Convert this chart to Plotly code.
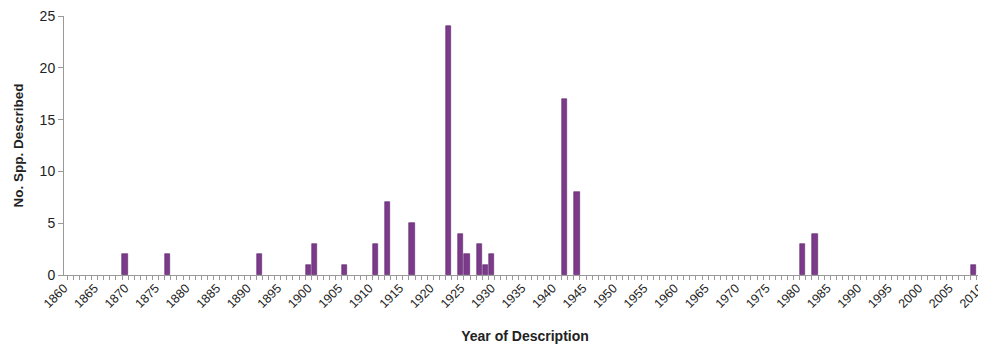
import plotly.graph_objects as go

years = [1870, 1877, 1892, 1900, 1901, 1906, 1911, 1913, 1917, 1923, 1925, 1926,
         1928, 1929, 1930, 1942, 1944, 1981, 1983, 2009]
counts = [2, 2, 2, 1, 3, 1, 3, 7, 5, 24, 4, 2, 3, 1, 2, 17, 8, 3, 4, 1]
tick_years = list(range(1860, 2011, 5))
tick_labels = [str(y) for y in tick_years]

fig = go.Figure(go.Bar(
    x=years, y=counts, width=0.85,
    marker=dict(color="#7B3A8A", line=dict(color="#5E2A6A", width=0.6)),
))

# page body has an 8px margin, so the figure is sized to end at the window edge
fig.update_layout(
    width=978, height=337,
    margin=dict(l=56, r=0, t=8, b=70),
    paper_bgcolor="white", plot_bgcolor="white",
    showlegend=False,
    font=dict(family="Liberation Sans, Arial, sans-serif", color="#222"),
    bargap=0,
)
fig.update_xaxes(
    range=[1860, 2011], automargin=False,
    tickmode="array", tickvals=tick_years, ticktext=tick_labels,
    tickangle=-45, tickfont=dict(size=12.5, color="#222"),
    ticklabeloverflow="allow",
    showgrid=False, zeroline=False,
    showline=True, linecolor="#999", linewidth=1,
    ticks="",
    minor=dict(ticks="outside", tick0=1860.5, dtick=1, ticklen=4,
               tickcolor="#999", showgrid=False),
    title=dict(text="<b>Year of Description</b>", font=dict(size=14, color="#222"), standoff=21),
)
fig.update_yaxes(
    range=[0, 25], dtick=5, automargin=False,
    tickfont=dict(size=14, color="#222"),
    ticklabeloverflow="allow",
    showgrid=False, zeroline=False,
    showline=True, linecolor="#999", linewidth=1,
    ticks="outside", ticklen=5, tickcolor="#999",
    title=dict(text="<b>No. Spp. Described</b>", font=dict(size=13.5, color="#222"), standoff=12),
)

fig.write_html("out.html")
